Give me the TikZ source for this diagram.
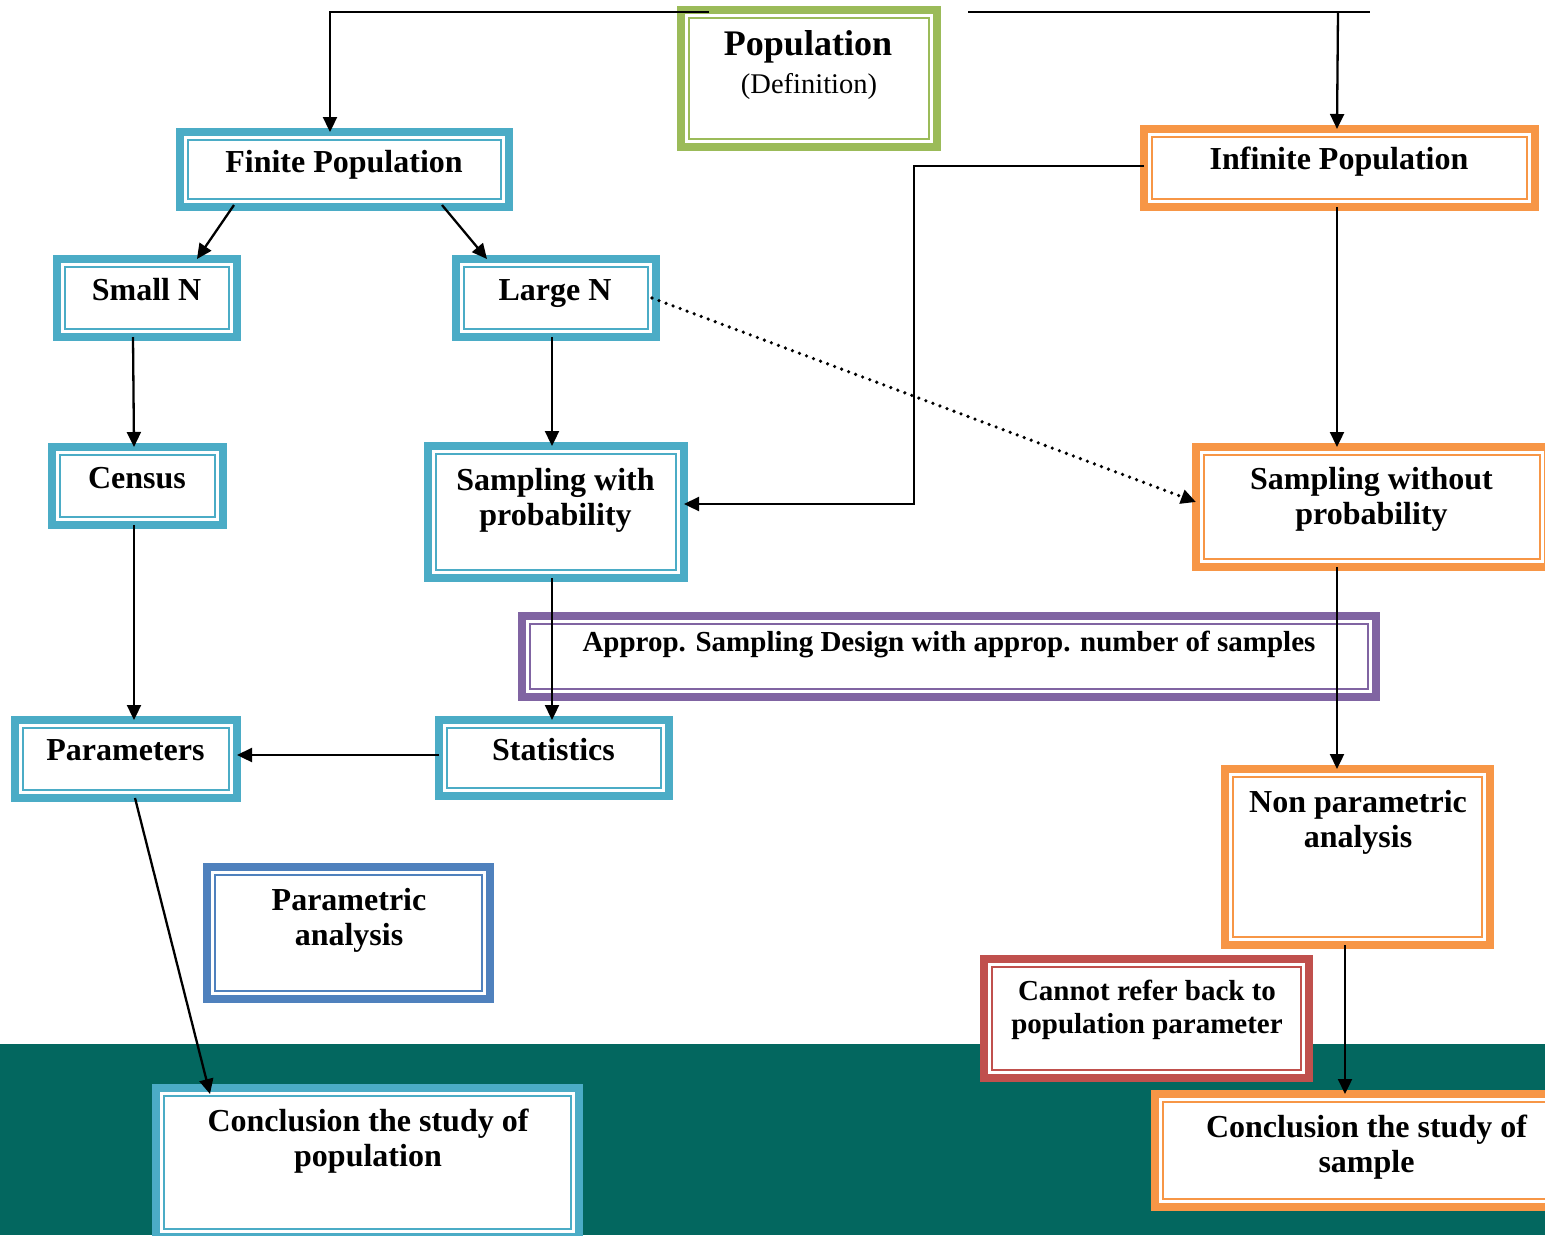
\documentclass[tikz,border=0pt]{standalone}
\usepackage{fontspec}
\setmainfont{Liberation Serif}
\usetikzlibrary{arrows.meta}
\definecolor{cblue}{HTML}{4BACC6}
\definecolor{corange}{HTML}{F79646}
\definecolor{cgreen}{HTML}{9BBB59}
\definecolor{cpurple}{HTML}{8064A2}
\definecolor{cdblue}{HTML}{4F81BD}
\definecolor{cred}{HTML}{C0504D}
\definecolor{cteal}{HTML}{03675F}
\newcommand\twol[2]{\begin{tabular}[t]{@{}c@{}}#1\\#2\end{tabular}}
\begin{document}
\begin{tikzpicture}[x=1pt,y=-1pt,
 bx/.style={draw=#1, line width=8pt, fill=white, rectangle, inner sep=0pt, outer sep=0pt,
   path picture={\draw[#1, line width=2pt] ([shift={(8pt,-8pt)}]path picture bounding box.north west) rectangle ([shift={(-8pt,8pt)}]path picture bounding box.south east);}},
 lbl/.style={font=\fontsize{32}{35}\selectfont\bfseries, anchor=base, inner sep=0pt, align=center},
 conn/.style={line width=2.3pt},
 arr/.style={conn, -{Triangle[length=15pt,width=14pt]}},
 dotarr/.style={line width=3.6pt, dash pattern=on 0pt off 7.5pt, line cap=round, -{Triangle[length=15pt,width=14pt]}}]
\useasboundingbox (0,0) rectangle (1545,1235);
\clip (0,0) rectangle (1545,1235);
\fill[cteal] (0,1044) rectangle (1545,1235);
% boxes
\node[bx=cgreen, minimum width=256pt, minimum height=137pt] (pop) at (809,78.5) {};
\node[lbl, font=\fontsize{36}{40}\selectfont\bfseries] (popt) at (808,55) {Population};
\node[lbl, font=\fontsize{28.5}{32}\selectfont] (popd) at (809,93) {(Definition)};
\node[bx=cblue, minimum width=329pt, minimum height=75pt] (finite) at (344.5,169.5) {};
\node[lbl] (finitet) at (344,172) {Finite Population};
\node[bx=corange, minimum width=391pt, minimum height=78pt] (infinite) at (1339.5,168) {};
\node[lbl] (infinitet) at (1339,169) {Infinite Population};
\node[bx=cblue, minimum width=180pt, minimum height=78pt] (small) at (147,298) {};
\node[lbl] (smallt) at (146.5,300) {Small N};
\node[bx=cblue, minimum width=200pt, minimum height=78pt] (large) at (556,298) {};
\node[lbl] (larget) at (555,300) {Large N};
\node[bx=cblue, minimum width=171pt, minimum height=78pt] (census) at (137.5,486) {};
\node[lbl] (censust) at (137,488) {Census};
\node[bx=cblue, minimum width=256pt, minimum height=132pt] (swith) at (556,512) {};
\node[lbl] (switht) at (555.5,490) {\twol{Sampling with}{probability}};
\node[bx=corange, minimum width=352pt, minimum height=120pt] (swout) at (1372,507) {};
\node[lbl] (swoutt) at (1371.5,489) {\twol{Sampling without}{probability}};
\node[bx=cpurple, minimum width=854pt, minimum height=81pt] (approp) at (949,656.5) {};
\node[lbl, font=\fontsize{29}{33}\selectfont\bfseries] (appropt) at (949,651) {Approp. Sampling Design with approp. number of samples};
\node[bx=cblue, minimum width=222pt, minimum height=78pt] (params) at (126,759) {};
\node[lbl] (paramst) at (125.5,760) {Parameters};
\node[bx=cblue, minimum width=230pt, minimum height=76pt] (stats) at (554,758) {};
\node[lbl] (statst) at (553.5,760) {Statistics};
\node[bx=corange, minimum width=265pt, minimum height=176pt] (nonpar) at (1357.5,857) {};
\node[lbl] (nonpart) at (1358,812) {\twol{Non parametric}{analysis}};
\node[bx=cdblue, minimum width=283pt, minimum height=132pt] (par) at (348.5,933) {};
\node[lbl] (part) at (349,910) {\twol{Parametric}{analysis}};
\node[bx=cred, minimum width=325pt, minimum height=119pt] (cannot) at (1146.5,1018.5) {};
\node[lbl, font=\fontsize{29}{33}\selectfont\bfseries] (cannott) at (1147,1000) {\twol{Cannot refer back to}{population parameter}};
\node[bx=cblue, minimum width=423pt, minimum height=149pt] (concpop) at (367.5,1162.5) {};
\node[lbl] (concpopt) at (368,1131) {\twol{Conclusion the study of}{population}};
\node[bx=corange, minimum width=423pt, minimum height=113pt] (concsamp) at (1366.5,1150.5) {};
\node[lbl] (concsampt) at (1366.5,1137) {\twol{Conclusion the study of}{sample}};
% connectors
\coordinate (rj) at (1338,12);
\coordinate (re) at (1370,12);
\draw[arr] ([shift={(-100pt,-2pt)}]pop.north) -| ([xshift=-14.5pt]finite.north);
\draw[conn] ([shift={(159pt,-2pt)}]pop.north) -- (re);
\draw[arr] (rj) -- ([xshift=-2.5pt]infinite.north);
\draw[arr] ([shift={(-110.5pt,2pt)}]finite.south) -- ([xshift=50pt]small.north);
\draw[arr] ([shift={(97.5pt,2pt)}]finite.south) -- ([xshift=-69pt]large.north);
\draw[arr] ([xshift=-14pt]small.south) -- ([xshift=-3.5pt]census.north);
\draw[arr] ([xshift=-4pt]large.south) -- ([xshift=-4pt]swith.north);
\draw[dotarr] ([xshift=-4pt]large.east) -- ([yshift=5pt]swout.west);
\draw[arr] ([yshift=2pt]infinite.west) -- ++(-230pt,0pt) |- ([yshift=8pt]swith.east);
\draw[arr] ([xshift=-2.5pt]infinite.south) -- ([xshift=-35pt]swout.north);
\draw[arr] ([xshift=-3.5pt]census.south) -- ([xshift=8pt]params.north);
\draw[arr] ([xshift=-4pt]swith.south) -- ([xshift=-2pt]stats.north);
\draw[arr] ([yshift=3pt]stats.west) -- ([yshift=4pt]params.east);
\draw[arr] ([xshift=-35pt]swout.south) -- ([xshift=-20.5pt]nonpar.north);
\draw[arr] ([xshift=9pt]params.south) -- ([shift={(-157.5pt,-6pt)}]concpop.north);
\draw[arr] ([xshift=-12.5pt]nonpar.south) -- ([xshift=-21.5pt]concsamp.north);
\end{tikzpicture}
\end{document}
